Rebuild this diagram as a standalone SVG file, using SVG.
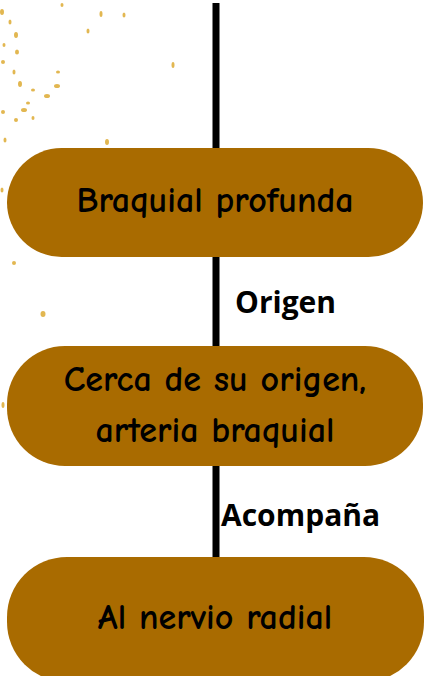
<svg xmlns="http://www.w3.org/2000/svg" width="427" height="676" viewBox="0 0 427 676">
<style>
.node{fill:#A96B00}
.nt{font-family:"Comic Neue","DejaVu Sans","Liberation Sans",sans-serif;font-size:36px;font-weight:bold;fill:#000;text-anchor:middle}
.lbl{font-family:"Open Sans","Liberation Sans",sans-serif;font-weight:bold;font-size:30px;fill:#000}
.sp{fill:#DDAA33;opacity:0.85}
</style>
<rect width="427" height="676" fill="#fff"/>
<g id="speckles">
<ellipse class="sp" cx="2" cy="12" rx="2" ry="3"/>
<ellipse class="sp" cx="10" cy="22" rx="1.5" ry="2.5"/>
<ellipse class="sp" cx="16" cy="35" rx="2" ry="3"/>
<ellipse class="sp" cx="4" cy="45" rx="1.5" ry="2"/>
<ellipse class="sp" cx="17" cy="52" rx="2" ry="2.5"/>
<ellipse class="sp" cx="3" cy="62" rx="2" ry="2"/>
<ellipse class="sp" cx="14" cy="72" rx="1.5" ry="2.5"/>
<ellipse class="sp" cx="20" cy="84" rx="2" ry="3"/>
<ellipse class="sp" cx="33" cy="90" rx="2" ry="1.5"/>
<ellipse class="sp" cx="47" cy="96" rx="3" ry="2"/>
<ellipse class="sp" cx="57" cy="86" rx="3" ry="2"/>
<ellipse class="sp" cx="58" cy="72" rx="2" ry="1.5"/>
<ellipse class="sp" cx="28" cy="103" rx="2" ry="1.5"/>
<ellipse class="sp" cx="24" cy="110" rx="3" ry="2"/>
<ellipse class="sp" cx="16" cy="120" rx="2" ry="2"/>
<ellipse class="sp" cx="3" cy="112" rx="2" ry="2"/>
<ellipse class="sp" cx="33" cy="118" rx="1.5" ry="2"/>
<ellipse class="sp" cx="5" cy="140" rx="1.5" ry="2.5"/>
<ellipse class="sp" cx="101" cy="14" rx="1.5" ry="3"/>
<ellipse class="sp" cx="124" cy="15" rx="1.5" ry="2.5"/>
<ellipse class="sp" cx="88" cy="31" rx="1.5" ry="2.5"/>
<ellipse class="sp" cx="62" cy="5" rx="1.5" ry="2"/>
<ellipse class="sp" cx="173" cy="65" rx="1.5" ry="3"/>
<ellipse class="sp" cx="107" cy="142" rx="2" ry="3"/>
<ellipse class="sp" cx="14" cy="263" rx="2" ry="2"/>
<ellipse class="sp" cx="43" cy="314" rx="2.5" ry="3"/>
<ellipse class="sp" cx="2" cy="190" rx="1.5" ry="2.5"/>
<ellipse class="sp" cx="3" cy="405" rx="1.5" ry="3"/>
</g>
<g id="connectors">
<line x1="216" y1="3" x2="216" y2="565" stroke="#000" stroke-width="7"/>
<text class="lbl" x="235" y="313">Origen</text>
<text class="lbl" x="221" y="526">Acompaña</text>
</g>
<g id="n1">
<rect class="node" x="7" y="148" width="416" height="109" rx="54.5"/>
<text class="nt" x="215" y="212">Braquial profunda</text>
</g>
<g id="n2">
<rect class="node" x="7" y="346" width="416" height="120" rx="58"/>
<text class="nt" x="215" y="391">Cerca de su origen,</text>
<text class="nt" x="215" y="442">arteria braquial</text>
</g>
<g id="n3">
<rect class="node" x="7" y="557" width="417" height="125" rx="60"/>
<text class="nt" x="215" y="629">Al nervio radial</text>
</g>
</svg>
